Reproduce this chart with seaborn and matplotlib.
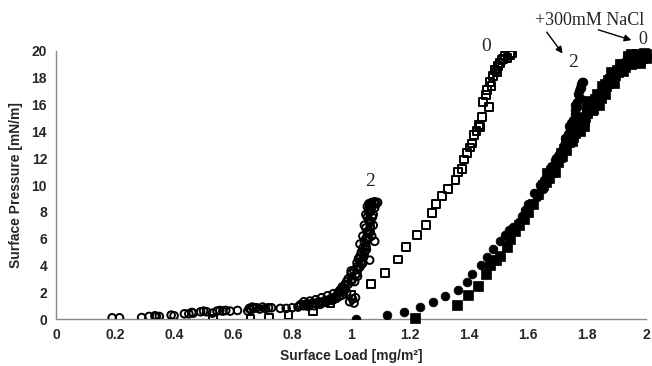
import matplotlib
matplotlib.use("Agg")
import matplotlib.pyplot as plt
import seaborn as sns

# ---- data ----
# no salt, ratio 2 (open circles)
oc_x = [0.19, 0.215, 0.29, 0.315, 0.335, 0.34, 0.35, 0.39, 0.40, 0.435, 0.45, 0.46, 0.465,
        0.49, 0.50, 0.51, 0.53, 0.545, 0.555, 0.565, 0.575, 0.59, 0.615, 0.65, 0.655, 0.66,
        0.665, 0.67, 0.68, 0.69, 0.70, 0.71, 0.72, 0.73, 0.76, 0.78, 0.80, 0.82, 0.825, 0.83,
        0.84, 0.85, 0.86, 0.87, 0.88, 0.89, 0.90, 0.91, 0.92, 0.93, 0.94, 0.95, 0.955, 0.96,
        0.965, 0.97, 0.975, 0.98, 0.985, 0.99, 1.0, 1.01, 1.02, 0.995, 1.005, 1.01, 1.015,
        1.02, 1.025, 1.03, 1.035, 1.04, 1.03, 1.045, 1.05, 1.04, 1.055, 1.06, 1.05, 1.045,
        1.065, 1.06, 1.055, 1.05, 1.065, 1.06, 1.055, 1.065, 1.06, 1.07, 1.08, 1.09, 1.08,
        1.063, 1.08, 1.0, 1.03, 1.065,
        0.84, 0.86, 0.88, 0.90, 0.92, 0.94, 0.96, 0.975, 0.99, 1.005, 1.015, 1.025, 1.035,
        1.045, 1.05, 1.055, 1.06, 1.07, 1.075, 1.072, 1.068, 1.07, 1.062, 1.058, 1.052,
        1.042, 1.036, 1.022, 1.012, 0.985, 0.97, 0.95, 0.935, 0.915, 0.895, 0.875, 0.855,
        1.0, 0.98, 1.02, 1.03, 1.045, 1.05, 1.065, 1.075, 1.08, 1.085, 1.06, 1.04, 0.96,
        0.94, 0.90]
oc_y = [0.1, 0.1, 0.12, 0.2, 0.25, 0.2, 0.2, 0.3, 0.25, 0.4, 0.4, 0.5, 0.45,
        0.55, 0.6, 0.55, 0.45, 0.6, 0.65, 0.6, 0.65, 0.6, 0.65, 0.6, 0.8, 0.7,
        0.9, 0.8, 0.85, 0.75, 0.9, 0.8, 0.85, 0.85, 0.8, 0.8, 0.85, 0.9, 1.0, 1.1,
        1.0, 1.15, 1.1, 1.2, 1.15, 1.3, 1.25, 1.35, 1.4, 1.5, 1.6, 1.7, 1.9, 2.0,
        2.2, 2.4, 2.3, 2.6, 2.8, 3.0, 3.4, 3.6, 3.9, 1.3, 1.5, 1.2, 1.6,
        4.2, 4.5, 4.7, 5.0, 5.3, 5.6, 5.7, 6.0, 6.2, 6.4, 6.6, 6.8, 7.0,
        7.2, 7.4, 7.6, 7.8, 8.0, 8.2, 8.4, 8.5, 8.6, 8.7, 8.75, 8.7, 8.6,
        4.4, 5.8, 3.6, 4.5, 6.9,
        1.3, 1.35, 1.45, 1.6, 1.75, 1.9, 2.1, 2.3, 2.6, 3.0, 3.3, 3.8, 4.3,
        4.9, 5.4, 5.9, 6.4, 6.2, 7.0, 7.6, 8.1, 8.4, 7.3, 6.0, 5.2,
        4.6, 4.1, 3.2, 2.8, 2.0, 1.8, 1.55, 1.4, 1.25, 1.1, 1.0, 0.95,
        2.8, 2.2, 3.4, 3.9, 5.0, 5.5, 6.5, 7.8, 8.3, 8.6, 8.0, 4.2, 1.7,
        1.45, 1.2]

# no salt, ratio 0 (open squares)
os_x = [0.533, 0.659, 0.723, 0.788, 0.872, 0.93, 1.0, 1.068, 1.116, 1.158, 1.186, 1.223,
        1.254, 1.274, 1.287, 1.307, 1.329, 1.354, 1.363, 1.377, 1.383, 1.394, 1.41, 1.416,
        1.425, 1.433, 1.444, 1.467, 1.448, 1.456, 1.461, 1.472, 1.48, 1.489, 1.498, 1.506,
        1.515, 1.523, 1.53, 1.545, 1.54, 1.402, 1.438, 1.476, 1.494, 1.51]
os_y = [0.05, 0.05, 0.1, 0.3, 0.62, 1.17, 1.8, 2.6, 3.45, 4.45, 5.35, 6.25,
        7.0, 7.9, 8.6, 9.2, 9.7, 10.4, 11.0, 11.2, 11.9, 12.4, 13.1, 13.7,
        14.0, 14.5, 15.1, 15.8, 16.2, 16.7, 17.1, 17.7, 18.1, 18.6, 18.9, 19.1,
        19.4, 19.6, 19.5, 19.85, 19.7, 12.8, 14.3, 17.4, 18.4, 19.3]

# +300 mM NaCl, ratio 2 (filled circles)
fc_x = [1.018, 1.122, 1.178, 1.235, 1.277, 1.317, 1.363, 1.394, 1.41, 1.44, 1.461, 1.48,
        1.506, 1.52, 1.534, 1.55, 1.568, 1.58, 1.59, 1.61, 1.63, 1.645, 1.663, 1.669,
        1.68, 1.69, 1.70, 1.708, 1.714, 1.72, 1.73, 1.736, 1.742, 1.748, 1.753, 1.758,
        1.764, 1.767, 1.77, 1.775, 1.78, 1.787, 1.6, 1.62, 1.64, 1.655, 1.675, 1.695,
        1.725, 1.745, 1.76, 1.772,
        1.757, 1.745, 1.76, 1.775, 1.78, 1.783, 1.74, 1.705, 1.65]
fc_y = [0.0, 0.3, 0.55, 0.92, 1.3, 1.74, 2.2, 2.8, 3.4, 4.0, 4.65, 5.2,
        5.85, 6.3, 6.64, 6.9, 7.26, 7.7, 8.13, 8.6, 9.1, 9.9, 10.6, 10.9,
        11.4, 11.9, 12.2, 12.4, 12.6, 13.0, 13.4, 13.8, 14.1, 14.5, 14.85, 15.3,
        15.8, 16.2, 16.8, 17.2, 17.5, 17.7, 8.6, 9.4, 10.0, 10.4, 11.3, 12.0,
        13.5, 14.6, 16.0, 17.0,
        14.6, 13.9, 15.6, 16.5, 17.2, 17.65, 14.4, 12.0, 9.7]

# +300 mM NaCl, ratio 0 (filled squares)
fs_x = [1.217, 1.36, 1.396, 1.43, 1.456, 1.472, 1.49, 1.506, 1.529, 1.54, 1.556, 1.57,
        1.585, 1.60, 1.618, 1.635, 1.652, 1.663, 1.686, 1.70, 1.708, 1.72, 1.73, 1.745,
        1.753, 1.759, 1.77, 1.78, 1.787, 1.792, 1.804, 1.812, 1.82, 1.826, 1.84, 1.854,
        1.865, 1.877, 1.888, 1.9, 1.91, 1.922, 1.935, 1.944, 1.955, 1.965, 1.975, 1.985,
        1.99, 1.994, 1.93, 1.86, 1.80,
        1.66, 1.68, 1.715, 1.74, 1.765, 1.775, 1.798, 1.815, 1.835, 1.848, 1.872, 1.884,
        1.896, 1.918, 1.94, 1.96, 1.98, 1.998, 1.95, 1.905, 1.87, 1.83, 1.79, 1.76,
        1.80, 1.82, 1.85, 1.86, 1.88, 1.89, 1.91, 1.92, 1.94, 1.95, 1.97, 1.98, 2.0,
        1.84, 1.79, 1.77, 1.75, 1.73, 1.71, 1.69, 1.67]
fs_y = [0.05, 1.04, 1.8, 2.5, 3.36, 4.0, 4.4, 4.7, 5.4, 6.0, 6.6, 7.0,
        7.5, 8.0, 8.6, 9.3, 10.0, 10.9, 11.3, 11.7, 12.1, 12.7, 13.1, 13.8,
        13.6, 14.2, 14.35, 14.7, 15.0, 15.1, 15.8, 15.9, 16.1, 16.4, 16.6, 17.1,
        17.4, 17.9, 18.1, 18.6, 18.7, 19.0, 19.1, 19.33, 19.6, 19.4, 19.7, 19.5,
        19.6, 19.85, 18.8, 17.5, 15.5,
        10.2, 11.0, 12.2, 13.2, 14.6, 14.0, 15.4, 15.6, 16.8, 16.5, 17.6, 18.0,
        18.2, 18.9, 19.5, 19.2, 19.3, 19.5, 19.75, 18.4, 17.8, 16.2, 14.8, 13.9,
        16.3, 15.7, 17.4, 16.8, 18.4, 17.6, 19.0, 18.5, 19.6, 19.0, 19.8, 19.1, 19.8,
        16.0, 14.4, 14.9, 13.3, 12.6, 12.4, 11.0, 10.5]

x_ticks = [0, 0.2, 0.4, 0.6, 0.8, 1, 1.2, 1.4, 1.6, 1.8, 2]
x_tick_labels = ["0", "0.2", "0.4", "0.6", "0.8", "1", "1.2", "1.4", "1.6", "1.8", "2"]
y_ticks = list(range(0, 21, 2))

sns.set_theme(style="white")
plt.rcParams["font.family"] = ["Liberation Sans", "DejaVu Sans"]

fig = plt.figure(figsize=(6.52, 3.66), dpi=100)
ax = fig.add_axes([0.086, 0.128, 0.905, 0.733])

sns.scatterplot(x=oc_x, y=oc_y, ax=ax, marker="o", s=30, facecolor="none",
                edgecolor="black", linewidth=1.4, zorder=3)
sns.scatterplot(x=os_x, y=os_y, ax=ax, marker="s", s=32, facecolor="none",
                edgecolor="black", linewidth=1.4, zorder=3)
sns.scatterplot(x=fc_x, y=fc_y, ax=ax, marker="o", s=40, color="black",
                edgecolor="black", linewidth=0.5, zorder=3)
sns.scatterplot(x=fs_x, y=fs_y, ax=ax, marker="s", s=46, color="black",
                edgecolor="black", linewidth=0.5, zorder=3, clip_on=False)

ax.set_xlim(0, 2)
ax.set_ylim(0, 20)
ax.set_xticks(x_ticks)
ax.set_xticklabels(x_tick_labels)
ax.set_yticks(y_ticks)
for sp in ["top", "right"]:
    ax.spines[sp].set_visible(False)
for sp in ["left", "bottom"]:
    ax.spines[sp].set_color("#8a8a8a")
    ax.spines[sp].set_linewidth(1.0)
ax.tick_params(axis="both", direction="out", length=3.5, width=1, color="#8a8a8a",
               labelsize=10, pad=3)
for lab in ax.get_xticklabels() + ax.get_yticklabels():
    lab.set_fontweight("bold")
ax.set_xlabel("Surface Load [mg/m²]", fontsize=10, fontweight="bold", labelpad=5)
ax.set_ylabel("Surface Pressure [mN/m]", fontsize=10, fontweight="bold", labelpad=6)

serif = ["Liberation Serif", "DejaVu Serif"]
ax.text(1.063, 10.25, "2", family=serif, fontsize=14, ha="center", va="center")
ax.text(1.456, 20.3, "0", family=serif, fontsize=14, ha="center", va="center", clip_on=False)
ax.text(1.751, 19.1, "2", family=serif, fontsize=14, ha="center", va="center")
ax.text(1.99, 20.85, "0", family=serif, fontsize=13, ha="center", va="center", clip_on=False)
ax.text(1.809, 22.25, "+300mM NaCl", family=serif, fontsize=13, ha="center", va="center",
        clip_on=False)
arrow = dict(arrowstyle="-|>", color="black", lw=1.0, mutation_scale=10, shrinkA=0, shrinkB=0)
ax.annotate("", xy=(1.717, 19.8), xytext=(1.663, 21.4), arrowprops=arrow,
            annotation_clip=False)
ax.annotate("", xy=(1.95, 20.8), xytext=(1.838, 21.57), arrowprops=arrow,
            annotation_clip=False)

fig.savefig("out.png", dpi=100)
